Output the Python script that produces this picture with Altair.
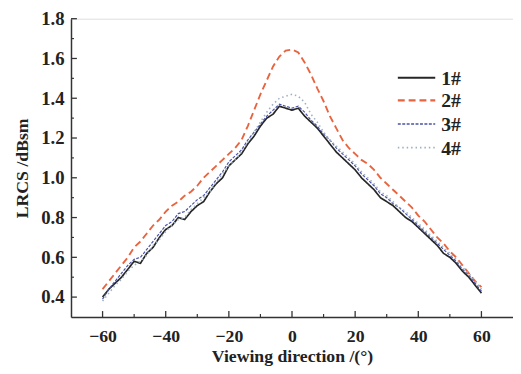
import altair as alt
import pandas as pd

angles = list(range(-60, 61, 2))

s1 = [0.40, 0.44, 0.47, 0.50, 0.54, 0.58, 0.57, 0.62, 0.65, 0.70, 0.74, 0.76, 0.80, 0.79, 0.83, 0.86,
      0.88, 0.93, 0.97, 1.00, 1.06, 1.09, 1.12, 1.17, 1.21, 1.26, 1.30, 1.32, 1.36, 1.35, 1.34, 1.35,
      1.31, 1.28, 1.25, 1.21, 1.17, 1.13, 1.10, 1.07, 1.04, 1.00, 0.97, 0.94, 0.90, 0.88, 0.86, 0.83,
      0.80, 0.78, 0.75, 0.72, 0.69, 0.66, 0.62, 0.60, 0.57, 0.53, 0.50, 0.46, 0.42]
s2 = [0.44, 0.48, 0.52, 0.56, 0.60, 0.65, 0.68, 0.72, 0.76, 0.79, 0.83, 0.86, 0.88, 0.91, 0.93, 0.96,
      1.00, 1.03, 1.06, 1.09, 1.12, 1.15, 1.19, 1.26, 1.34, 1.42, 1.49, 1.56, 1.61, 1.64, 1.645, 1.63,
      1.58, 1.52, 1.45, 1.385, 1.31, 1.25, 1.19, 1.15, 1.12, 1.09, 1.07, 1.04, 1.00, 0.97, 0.94, 0.91,
      0.88, 0.85, 0.81, 0.78, 0.74, 0.70, 0.67, 0.63, 0.60, 0.56, 0.52, 0.48, 0.45]
s3 = [0.39, 0.44, 0.48, 0.52, 0.56, 0.59, 0.60, 0.64, 0.68, 0.72, 0.76, 0.78, 0.82, 0.83, 0.86, 0.89,
      0.91, 0.95, 0.99, 1.03, 1.08, 1.11, 1.14, 1.19, 1.23, 1.27, 1.31, 1.34, 1.37, 1.36, 1.35, 1.36,
      1.33, 1.29, 1.26, 1.22, 1.19, 1.15, 1.12, 1.09, 1.06, 1.02, 0.99, 0.96, 0.92, 0.90, 0.87, 0.85,
      0.82, 0.79, 0.76, 0.73, 0.70, 0.67, 0.64, 0.61, 0.58, 0.54, 0.51, 0.47, 0.43]
s4 = [0.38, 0.42, 0.46, 0.49, 0.53, 0.56, 0.58, 0.61, 0.66, 0.69, 0.73, 0.76, 0.79, 0.80, 0.84, 0.87,
      0.90, 0.93, 0.98, 1.02, 1.06, 1.09, 1.13, 1.18, 1.23, 1.28, 1.33, 1.37, 1.40, 1.41, 1.42, 1.41,
      1.38, 1.32, 1.28, 1.23, 1.19, 1.16, 1.13, 1.10, 1.07, 1.03, 1.00, 0.97, 0.93, 0.91, 0.88, 0.85,
      0.83, 0.80, 0.77, 0.74, 0.71, 0.68, 0.65, 0.62, 0.59, 0.55, 0.52, 0.48, 0.44]

series_names = ["1#", "2#", "3#", "4#"]
series_values = [s1, s2, s3, s4]
colors = ["#262626", "#e8643f", "#4a52a6", "#9db0c0"]
dashes = [[1, 0], [7, 4], [3, 1.5], [1.5, 3]]
widths = [1.7, 1.9, 1.2, 1.6]

x_major = [-60, -40, -20, 0, 20, 40, 60]
x_minor = [-50, -30, -10, 10, 30, 50]
y_major = [0.4, 0.6, 0.8, 1.0, 1.2, 1.4, 1.6, 1.8]
y_minor = [0.5, 0.7, 0.9, 1.1, 1.3, 1.5, 1.7]

W, H = 449, 303
FONT = "Liberation Serif"

xscale = alt.Scale(domain=[-70, 70], nice=False, zero=False)
yscale = alt.Scale(domain=[0.3, 1.8], nice=False, zero=False)

xaxis = alt.Axis(values=x_major, title="Viewing direction /(°)", ticks=False, tickSize=0,
                 labelPadding=11, titlePadding=2, grid=False, domainColor="#333333", domainWidth=1.5,
                 labelFont=FONT, labelFontSize=18, labelColor="#222222", titleFont=FONT,
                 titleFontSize=18, titleFontWeight="bold", titleColor="#222222", labelFlush=False,
                 labelFontWeight="bold")
yaxis = alt.Axis(values=y_major, format=".1f", title="LRCS /dBsm", ticks=False, tickSize=0,
                 labelPadding=7, titlePadding=9, grid=False, domainColor="#333333", domainWidth=1.5,
                 labelFont=FONT, labelFontSize=19, labelColor="#222222", titleFont=FONT,
                 titleFontSize=18, titleFontWeight="bold", titleColor="#222222", labelFlush=False,
                 labelFontWeight="bold")

layers = []
for i, (name, vals) in enumerate(zip(series_names, series_values)):
    df = pd.DataFrame({"angle": angles, "lrcs": vals})
    layers.append(alt.Chart(df).mark_line(color=colors[i], strokeDash=dashes[i],
                                          strokeWidth=widths[i]).encode(
        x=alt.X("angle:Q", scale=xscale, axis=xaxis),
        y=alt.Y("lrcs:Q", scale=yscale, axis=yaxis)))

# inward ticks
layers.append(alt.Chart(pd.DataFrame({"angle": x_major})).mark_rule(color="#333333", strokeWidth=1.3).encode(
    x=alt.X("angle:Q", scale=xscale, axis=xaxis), y=alt.value(H), y2=alt.value(H - 6)))
layers.append(alt.Chart(pd.DataFrame({"angle": x_minor})).mark_rule(color="#333333", strokeWidth=1.2).encode(
    x=alt.X("angle:Q", scale=xscale, axis=xaxis), y=alt.value(H), y2=alt.value(H - 3)))
layers.append(alt.Chart(pd.DataFrame({"lrcs": y_major})).mark_rule(color="#333333", strokeWidth=1.3).encode(
    y=alt.Y("lrcs:Q", scale=yscale, axis=yaxis), x=alt.value(0), x2=alt.value(6)))
layers.append(alt.Chart(pd.DataFrame({"lrcs": y_minor})).mark_rule(color="#333333", strokeWidth=1.2).encode(
    y=alt.Y("lrcs:Q", scale=yscale, axis=yaxis), x=alt.value(0), x2=alt.value(3)))

# legend
leg_y = [60, 83, 107, 131]
for i, name in enumerate(series_names):
    ldf = pd.DataFrame({"s": [name]})
    layers.append(alt.Chart(ldf).mark_rule(color=colors[i], strokeDash=dashes[i],
                                           strokeWidth=widths[i] + 0.3).encode(
        x=alt.value(332), x2=alt.value(370), y=alt.value(leg_y[i])))
    layers.append(alt.Chart(ldf).mark_text(font=FONT, fontSize=20, fontWeight="bold", color="#222222",
                                           align="left", baseline="middle").encode(
        text="s:N", x=alt.value(376), y=alt.value(leg_y[i] + 1)))

chart = alt.layer(*layers).properties(
    width=W, height=H, autosize=alt.AutoSizeParams(type="none"),
    padding={"left": 64, "top": 8, "right": 0, "bottom": 52}
).configure_view(stroke=None).configure(background="white")

chart.save("out.html", embed_options={"renderer": "svg", "actions": False})
